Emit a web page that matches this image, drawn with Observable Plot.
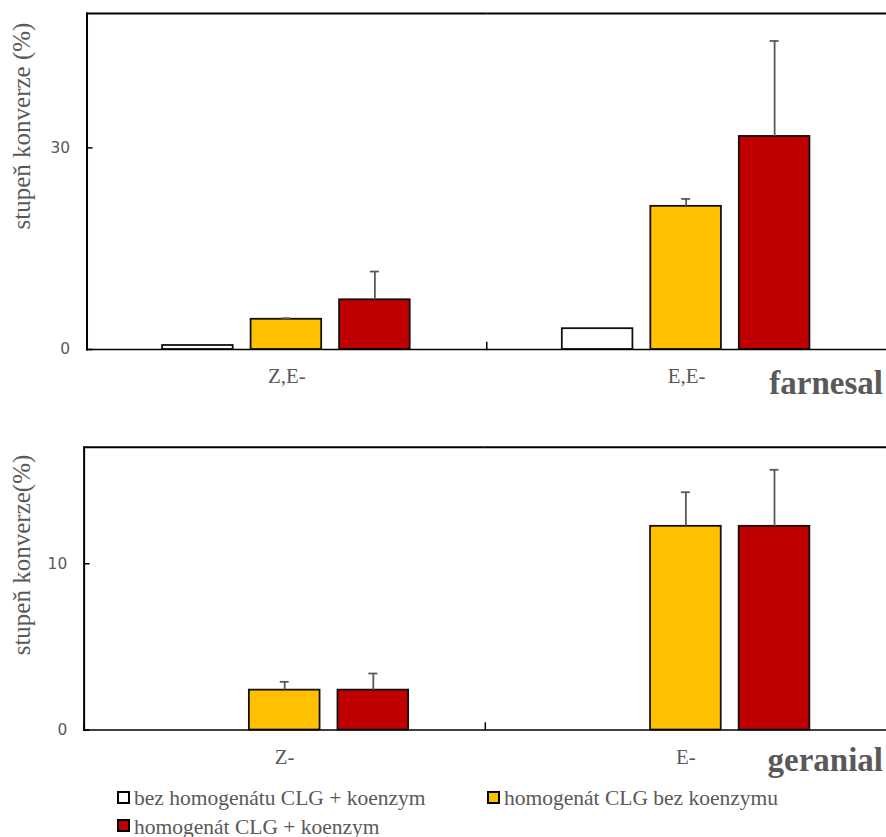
<!DOCTYPE html>
<html>
<head>
<meta charset="utf-8">
<script src="https://cdn.jsdelivr.net/npm/d3@7"></script>
<script src="https://cdn.jsdelivr.net/npm/@observablehq/plot@0.6"></script>
<style>
  body { margin: 0; background: #fff; overflow: hidden; }
  #wrap { position: relative; width: 886px; height: 837px; overflow: hidden; font-family: "Liberation Serif", "Times New Roman", serif; color: #595959; }
  .panel { position: absolute; left: 0; }
  .panel svg { display: block; }
  .ylab { position: absolute; white-space: nowrap; font-size: 25px; line-height: 1; transform: translate(-50%, -50%) rotate(-90deg); }
  .ptitle { position: absolute; right: 3px; font-size: 33px; font-weight: bold; line-height: 1; }
  #legend { position: absolute; left: 117px; top: 784px; width: 760px; display: flex; flex-wrap: wrap; font-size: 21.5px; line-height: 28.5px; }
  .item { width: 370px; white-space: nowrap; }
  .sw { display: inline-block; width: 13px; height: 13px; box-sizing: border-box; border: 2px solid #000; margin-right: 4px; margin-bottom: 1.5px; }
</style>
</head>
<body>
<div id="wrap">
  <div class="panel" id="farnesal" style="top:0"></div>
  <div class="panel" id="geranial" style="top:410px"></div>
  <div class="ylab" style="left:21px; top:126px">stupeň konverze (%)</div>
  <div class="ylab" style="left:21px; top:555px">stupeň konverze(%)</div>
  <div class="ptitle" style="top:367px">farnesal</div>
  <div class="ptitle" style="top:744px">geranial</div>
  <div id="legend"></div>
</div>
<script>
// Series (legend order) and their fills
const seriesNames = ["bez homogenátu CLG + koenzym", "homogenát CLG bez koenzymu", "homogenát CLG + koenzym"];
const seriesColors = ["#FFFFFF", "#FFC000", "#C00000"];

// Farnesal isomers: one row per series, one column per category
const farnesalCategories = ["Z,E-", "E,E-"];
const farnesalValues = [[0.6, 3.1], [4.5, 21.3], [7.4, 31.7]];
const farnesalErrors = [[null, null], [0.15, 1.1], [4.2, 14.2]];
const farnesalTicks = [0, 30];
const farnesalMax = 50;

// Geranial isomers
const geranialCategories = ["Z-", "E-"];
const geranialValues = [[0, 0], [2.4, 12.25], [2.4, 12.25]];
const geranialErrors = [[null, null], [0.5, 2.05], [1.0, 3.4]];
const geranialTicks = [0, 10];
const geranialMax = 17;

const serif = "Liberation Serif, Times New Roman, serif";
const grey = "#595959";

function panel({categories, values, errors, ticks, yMax, width, height, marginTop, marginBottom, marginLeft}) {
  const rows = [];
  categories.forEach((c, j) => seriesNames.forEach((s, i) =>
    rows.push({category: c, series: s, value: values[i][j], error: errors[i][j]})));
  const bars = rows.filter(d => d.value > 0);
  const errs = rows.filter(d => d.error != null);
  const plotHeight = height - marginTop - marginBottom;
  return Plot.plot({
    width, height, marginTop, marginBottom, marginLeft, marginRight: 0,
    style: {background: "#fff"},
    fx: {domain: categories, padding: 0},
    x: {domain: seriesNames, paddingInner: 0.2, paddingOuter: 0.85, axis: null},
    y: {domain: [0, yMax]},
    color: {domain: seriesNames, range: seriesColors},
    marks: [
      Plot.barY(bars, {fx: "category", x: "series", y: "value", fill: "series", stroke: "#111", strokeWidth: 1.8}),
      Plot.ruleX(errs, {fx: "category", x: "series", y1: "value", y2: d => d.value + d.error, stroke: grey, strokeWidth: 1.8}),
      Plot.tickY(errs, {fx: "category", x: "series", y: d => d.value + d.error, stroke: grey, strokeWidth: 1.8, insetLeft: 31, insetRight: 31}),
      // baseline and top border
      Plot.ruleY([0], {stroke: "#000", strokeWidth: 1.5}),
      Plot.ruleY([yMax], {stroke: "#000", strokeWidth: 2}),
      Plot.frame({anchor: "left", facetAnchor: "left", stroke: "#000", strokeWidth: 2}),
      // short category-boundary ticks on the baseline
      Plot.frame({anchor: "left", insetTop: plotHeight - 7, stroke: "#000", strokeWidth: 1.5}),
      // inward y ticks
      Plot.axisY({ticks, tickSize: 6, dx: 6, fill: "none", stroke: "#000", strokeWidth: 1.5}),
      Plot.axisY({ticks, tickSize: 0, tickPadding: 17, label: null, fontSize: 15.5, fontFamily: "DejaVu Sans", fill: grey}),
      Plot.axisFx({anchor: "bottom", tickSize: 0, tickPadding: 19, label: null, fontSize: 21, fontFamily: serif, fill: grey})
    ]
  });
}

document.getElementById("farnesal").append(panel({
  categories: farnesalCategories, values: farnesalValues, errors: farnesalErrors,
  ticks: farnesalTicks, yMax: farnesalMax, width: 891, height: 410, marginTop: 13, marginBottom: 59, marginLeft: 86
}));
document.getElementById("geranial").append(panel({
  categories: geranialCategories, values: geranialValues, errors: geranialErrors,
  ticks: geranialTicks, yMax: geranialMax, width: 890, height: 375, marginTop: 37, marginBottom: 54, marginLeft: 84
}));

// Legend
const legend = d3.select("#legend");
seriesNames.forEach((name, i) => {
  const item = legend.append("div").attr("class", "item");
  item.append("span").attr("class", "sw").style("background", seriesColors[i]);
  item.append("span").text(name);
});
</script>
</body>
</html>
